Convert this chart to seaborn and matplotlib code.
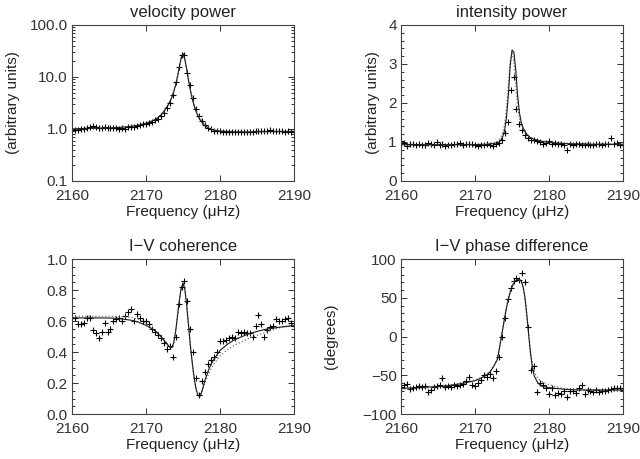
import numpy as np
import pandas as pd
import matplotlib
matplotlib.use('Agg')
import matplotlib.pyplot as plt
import seaborn as sns
from matplotlib.ticker import MultipleLocator, NullLocator, LogLocator, FixedLocator, FuncFormatter, NullFormatter

# frequency grid of the measured spectra (muHz)
freq = [2160.0, 2160.4, 2160.8, 2161.2, 2161.6, 2162.0, 2162.4, 2162.8, 2163.2, 2163.6,
        2164.0, 2164.4, 2164.8, 2165.2, 2165.6, 2166.0, 2166.4, 2166.8, 2167.2, 2167.6,
        2168.0, 2168.4, 2168.8, 2169.2, 2169.6, 2170.0, 2170.4, 2170.8, 2171.2, 2171.6,
        2172.0, 2172.4, 2172.8, 2173.2, 2173.6, 2174.0, 2174.4, 2174.8, 2175.2, 2175.6,
        2176.0, 2176.4, 2176.8, 2177.2, 2177.6, 2178.0, 2178.4, 2178.8, 2179.2, 2179.6,
        2180.0, 2180.4, 2180.8, 2181.2, 2181.6, 2182.0, 2182.4, 2182.8, 2183.2, 2183.6,
        2184.0, 2184.4, 2184.8, 2185.2, 2185.6, 2186.0, 2186.4, 2186.8, 2187.2, 2187.6,
        2188.0, 2188.4, 2188.8, 2189.2, 2189.6, 2190.0]

vel_data = [1.00, 0.97, 0.96, 0.99, 1.00, 1.05, 1.10, 1.12, 1.08, 1.06,
            1.05, 1.07, 1.04, 1.05, 1.04, 1.03, 1.02, 1.05, 1.02, 1.08,
            1.10, 1.09, 1.12, 1.18, 1.25, 1.22, 1.30, 1.38, 1.48, 1.55,
            1.75, 2.0, 2.5, 3.2, 4.6, 8.0, 15.5, 27.0, 26.0, 12.0,
            7.0, 4.0, 2.4, 1.75, 1.40, 1.20, 1.05, 0.98, 0.92, 0.90,
            0.91, 0.89, 0.88, 0.86, 0.87, 0.86, 0.88, 0.87, 0.89, 0.88,
            0.86, 0.88, 0.92, 0.91, 0.90, 0.93, 0.92, 0.95, 0.91, 0.90,
            0.92, 0.90, 0.89, 0.91, 0.89, 0.90]

int_data = [1.02, 0.98, 0.90, 0.95, 0.94, 0.93, 0.95, 0.93, 0.92, 0.97,
            0.95, 0.93, 1.00, 0.92, 0.96, 0.89, 0.93, 0.92, 0.95, 0.94,
            0.98, 0.93, 0.95, 0.94, 0.95, 0.91, 0.90, 0.93, 0.92, 0.94,
            0.93, 0.90, 0.94, 0.97, 1.05, 1.22, 1.52, 2.33, 2.67, 1.85,
            1.45, 1.30, 1.18, 1.10, 1.05, 1.05, 1.02, 1.00, 0.95, 0.97,
            1.02, 0.95, 0.98, 0.96, 0.94, 0.92, 0.80, 0.95, 0.93, 0.96,
            0.95, 0.93, 0.92, 0.95, 0.91, 0.93, 0.94, 0.96, 0.93, 0.95,
            0.94, 1.10, 0.95, 0.97, 0.93, 0.91]

coh_data = [0.62, 0.62, 0.58, 0.58, 0.59, 0.62, 0.62, 0.54, 0.52, 0.49,
            0.53, 0.59, 0.53, 0.55, 0.60, 0.61, 0.62, 0.60, 0.635, 0.66,
            0.68, 0.60, 0.645, 0.62, 0.60, 0.60, 0.58, 0.55, 0.53, 0.51,
            0.49, 0.46, 0.42, 0.44, 0.37, 0.50, 0.71, 0.82, 0.86, 0.73,
            0.55, 0.40, 0.23, 0.12, 0.21, 0.27, 0.32, 0.35, 0.37, 0.40,
            0.47, 0.47, 0.48, 0.49, 0.50, 0.49, 0.53, 0.52, 0.53, 0.52,
            0.52, 0.50, 0.57, 0.64, 0.58, 0.50, 0.54, 0.56, 0.57, 0.61,
            0.60, 0.60, 0.61, 0.62, 0.59, 0.57]

phase_data = [-65, -62, -61, -68, -66, -65, -64, -65, -64, -72,
              -69, -65, -64, -62, -53, -65, -64, -65, -63, -64,
              -63, -61, -58, -52, -62, -64, -60, -56, -50, -52,
              -48, -53, -45, -27, 0, 24, 48, 63, 72, 76,
              73, 82, 70, 12, -43, -38, -72, -60, -62, -67,
              -74, -66, -75, -73, -74, -70, -78, -70, -70, -73,
              -66, -63, -74, -69, -70, -72, -69, -71, -70, -70,
              -69, -68, -66, -67, -66, -69]

# model fits (solid = fit 1, dotted = fit 2)
fit_freq = [2160, 2162, 2164, 2166, 2168, 2169, 2170, 2171, 2171.5, 2172,
            2172.5, 2173, 2173.25, 2173.5, 2173.75, 2174, 2174.25, 2174.5, 2174.75, 2175,
            2175.25, 2175.5, 2175.75, 2176, 2176.25, 2176.5, 2176.75, 2177, 2177.25, 2177.5,
            2177.75, 2178, 2178.5, 2179, 2180, 2181, 2182, 2184, 2186, 2188, 2190]

vel_fit = [1.00, 1.03, 1.04, 1.06, 1.12, 1.18, 1.28, 1.45, 1.60, 1.85,
           2.25, 2.90, 3.40, 4.10, 5.20, 7.00, 10.0, 15.5, 23.0, 28.5,
           22.0, 14.0, 8.5, 5.5, 3.8, 2.8, 2.2, 1.80, 1.55, 1.38,
           1.25, 1.15, 1.03, 0.96, 0.91, 0.89, 0.88, 0.88, 0.89, 0.89, 0.89]
vel_fit2 = [0.99, 1.02, 1.04, 1.07, 1.13, 1.19, 1.30, 1.47, 1.62, 1.88,
            2.30, 2.95, 3.45, 4.15, 5.3, 7.1, 10.2, 15.8, 23.5, 27.5,
            21.5, 14.0, 8.7, 5.7, 4.0, 3.0, 2.35, 1.92, 1.65, 1.47,
            1.33, 1.22, 1.08, 0.99, 0.93, 0.90, 0.89, 0.88, 0.89, 0.90, 0.90]

int_fit = [0.93, 0.93, 0.93, 0.93, 0.93, 0.93, 0.93, 0.94, 0.94, 0.95,
           0.96, 0.98, 1.00, 1.05, 1.14, 1.30, 1.62, 2.20, 2.95, 3.36,
           3.30, 2.85, 2.20, 1.75, 1.50, 1.36, 1.27, 1.20, 1.15, 1.11,
           1.09, 1.07, 1.04, 1.02, 0.99, 0.97, 0.96, 0.95, 0.94, 0.94, 0.94]
int_fit2 = [0.92, 0.92, 0.92, 0.92, 0.93, 0.93, 0.93, 0.94, 0.95, 0.96,
            0.98, 1.01, 1.05, 1.12, 1.25, 1.45, 1.85, 2.45, 3.10, 3.30,
            3.05, 2.45, 1.90, 1.60, 1.42, 1.31, 1.23, 1.18, 1.14, 1.11,
            1.09, 1.07, 1.04, 1.02, 1.00, 0.98, 0.97, 0.96, 0.95, 0.95, 0.95]

coh_fit = [0.620, 0.620, 0.620, 0.618, 0.605, 0.592, 0.572, 0.545, 0.525, 0.500,
           0.472, 0.442, 0.430, 0.428, 0.460, 0.530, 0.630, 0.730, 0.810, 0.845,
           0.805, 0.700, 0.570, 0.440, 0.330, 0.235, 0.165, 0.125, 0.112, 0.140,
           0.180, 0.222, 0.290, 0.340, 0.410, 0.450, 0.480, 0.520, 0.545, 0.560, 0.570]
coh_fit2 = [0.630, 0.630, 0.630, 0.630, 0.625, 0.610, 0.585, 0.550, 0.528, 0.502,
            0.474, 0.444, 0.432, 0.430, 0.462, 0.532, 0.632, 0.732, 0.812, 0.845,
            0.805, 0.700, 0.568, 0.436, 0.325, 0.230, 0.160, 0.120, 0.112, 0.135,
            0.170, 0.205, 0.262, 0.310, 0.375, 0.415, 0.445, 0.490, 0.525, 0.555, 0.580]

phase_fit = [-67, -66, -65, -64, -61, -59, -57, -53, -50, -46,
             -39, -30, -18, -4, 10, 24, 37, 48, 57, 64,
             69, 72, 74, 74, 71, 64, 50, 28, 2, -22,
             -40, -51, -60, -64, -66, -67, -68, -69, -69, -69, -69]
phase_fit2 = [-68, -67, -66, -64, -61, -59, -56, -52, -49, -45,
              -38, -29, -17, -3, 11, 25, 38, 49, 58, 65,
              70, 73, 74, 73, 70, 63, 49, 27, 3, -20,
              -36, -46, -54, -58, -62, -65, -67, -69, -70, -70, -70]

titles = ['velocity power', 'intensity power', 'I\u2212V coherence', 'I\u2212V phase difference']
ylabels = ['(arbitrary units)', '(arbitrary units)', None, '(degrees)']

sns.set_style('ticks')
plt.rcParams['font.family'] = ['Liberation Sans', 'DejaVu Sans']
plt.rcParams['text.color'] = '#222222'
plt.rcParams['axes.labelcolor'] = '#222222'
plt.rcParams['xtick.color'] = '#333333'
plt.rcParams['ytick.color'] = '#333333'

fig = plt.figure(figsize=(6.4, 4.59), dpi=100)
left_x, right_x, w = 0.1125, 0.6266, 0.3469
axs = [fig.add_axes([left_x, 0.6057, w, 0.3399]),
       fig.add_axes([right_x, 0.6057, w, 0.3399]),
       fig.add_axes([left_x, 0.098, w, 0.3377]),
       fig.add_axes([right_x, 0.098, w, 0.3377])]

datas = [vel_data, int_data, coh_data, phase_data]
fits = [vel_fit, int_fit, coh_fit, phase_fit]
fits2 = [vel_fit2, int_fit2, coh_fit2, phase_fit2]
ylims = [(0.1, 100), (0, 4), (0, 1), (-100, 100)]
minors = [None, 0.2, 0.05, 10]
majors = [None, 1, 0.2, 50]
label_x = [-0.234, -0.095, None, -0.284]

for k, ax in enumerate(axs):
    if k == 0:
        ax.set_yscale('log')
    sns.lineplot(x=fit_freq, y=fits2[k], ax=ax, color='0.45', lw=0.9, linestyle=':')
    sns.lineplot(x=fit_freq, y=fits[k], ax=ax, color='0.1', lw=0.8)
    sns.scatterplot(x=freq, y=datas[k], ax=ax, marker='+', s=22, color='k', linewidth=0.8)
    ax.set_xlim(2160, 2190)
    ax.set_ylim(*ylims[k])
    ax.xaxis.set_major_locator(MultipleLocator(10))
    ax.xaxis.set_minor_locator(NullLocator())
    if k == 0:
        ax.yaxis.set_major_locator(FixedLocator([0.1, 1, 10, 100]))
        ax.yaxis.set_major_formatter(FuncFormatter(lambda v, p: f'{v:.1f}'))
        ax.yaxis.set_minor_locator(LogLocator(base=10, subs=np.arange(2, 10)))
        ax.yaxis.set_minor_formatter(NullFormatter())
    else:
        ax.yaxis.set_major_locator(MultipleLocator(majors[k]))
        ax.yaxis.set_minor_locator(MultipleLocator(minors[k]))
    if k == 2:
        ax.yaxis.set_major_formatter(FuncFormatter(lambda v, p: f'{v:.1f}'))
    ax.tick_params(which='major', direction='in', top=True, right=True,
                   length=4, width=0.7, labelsize=11)
    ax.tick_params(which='minor', direction='in', left=True, right=True,
                   length=2.5, width=0.7)
    ax.tick_params(axis='x', pad=6)
    ax.tick_params(axis='y', pad=3)
    for lab in ax.get_yticklabels():
        lab.set_va('center_baseline')
    for sp in ax.spines.values():
        sp.set_color('#404040')
        sp.set_linewidth(0.8)
    ax.set_title(titles[k], fontsize=12, pad=6)
    ax.set_xlabel('Frequency (\u03bcHz)', fontsize=11, labelpad=1)
    if ylabels[k]:
        ax.set_ylabel(ylabels[k], fontsize=11)
        ax.yaxis.set_label_coords(label_x[k], 0.5)
    else:
        ax.set_ylabel('')

fig.savefig('out.png', dpi=100)
